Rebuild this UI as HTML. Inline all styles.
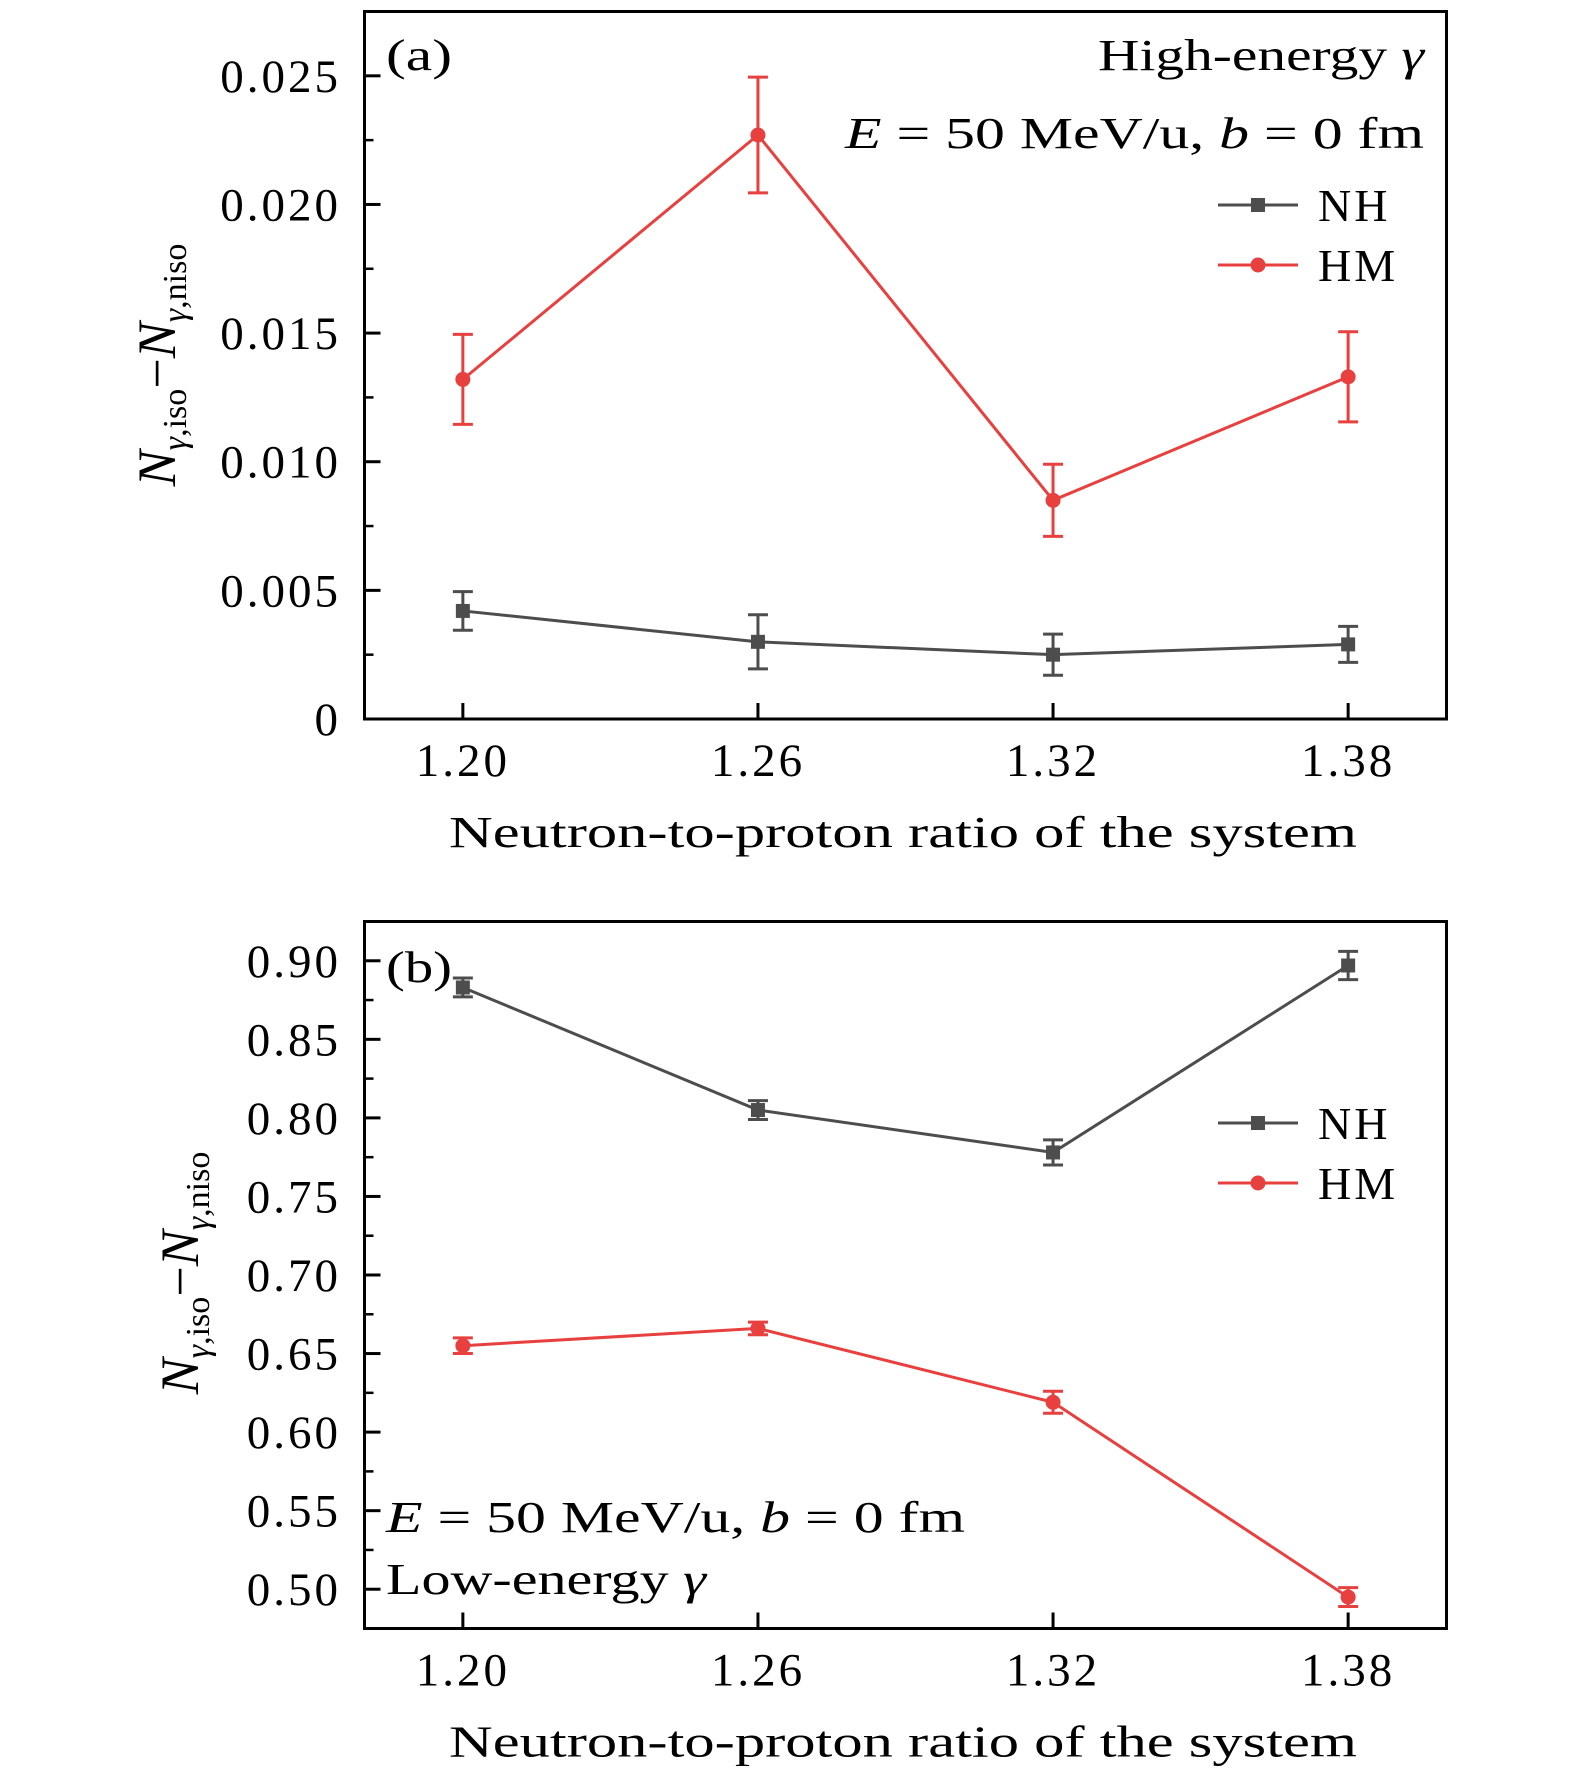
<!DOCTYPE html>
<html><head><meta charset="utf-8"><style>
html,body{margin:0;padding:0;background:#fff}
svg{display:block}
text{font-family:"Liberation Serif",serif;fill:#000}
</style></head><body>
<svg id="chart" width="1575" height="1781" viewBox="0 0 1575 1781" xmlns="http://www.w3.org/2000/svg">
<g id="pa"></g>
<g id="pb"></g>
</svg>
<script>
const categories = [1.20, 1.26, 1.32, 1.38];
const xTickLabels = ["1.20", "1.26", "1.32", "1.38"];
const aNH = [0.0042, 0.0030, 0.0025, 0.0029];
const aNHerr = [0.00075, 0.00105, 0.0008, 0.0007];
const aHM = [0.0132, 0.0227, 0.0085, 0.0133];
const aHMerr = [0.00175, 0.00225, 0.0014, 0.00175];
const aYTicks = [0, 0.005, 0.010, 0.015, 0.020, 0.025];
const aYTickLabels = ["0", "0.005", "0.010", "0.015", "0.020", "0.025"];
const bNH = [0.883, 0.805, 0.778, 0.897];
const bNHerr = [0.006, 0.006, 0.008, 0.009];
const bHM = [0.655, 0.666, 0.619, 0.495];
const bHMerr = [0.005, 0.004, 0.007, 0.006];
const bYTicks = [0.50, 0.55, 0.60, 0.65, 0.70, 0.75, 0.80, 0.85, 0.90];
const bYTickLabels = ["0.50", "0.55", "0.60", "0.65", "0.70", "0.75", "0.80", "0.85", "0.90"];

const NS = "http://www.w3.org/2000/svg";
const GRAY = "#4d4d4d", RED = "#e8403f";
function mk(parent, tag, attrs, txt) {
  const e = document.createElementNS(NS, tag);
  for (const k in attrs) e.setAttribute(k, attrs[k]);
  if (txt !== undefined) e.textContent = txt;
  parent.appendChild(e);
  return e;
}
function panel(g, cfg) {
  const L = 364.5, R = 1446.5, T = cfg.top, B = cfg.bottom;
  const xs = v => L + (v - 1.18) / (1.40 - 1.18) * (R - L);
  const ys = v => B - (v - cfg.ymin) / (cfg.ymax - cfg.ymin) * (B - T);
  const frame = mk(g, "rect", {x: L, y: T, width: R - L, height: B - T, fill: "none", stroke: "#000", "stroke-width": 3});
  
  
  categories.forEach((c, i) => {
    const x = xs(c);
    mk(g, "line", {x1: x, y1: B, x2: x, y2: B - 16, stroke: "#000", "stroke-width": 3});
    const t = mk(g, "text", {x: x, y: B + 57, "font-size": 47, "letter-spacing": 3, "text-anchor": "middle"}, xTickLabels[i]);
    
    
  });
  cfg.yticks.forEach((v, i) => {
    const y = ys(v);
    mk(g, "line", {x1: L, y1: y, x2: L + 16, y2: y, stroke: "#000", "stroke-width": 3});
    const t = mk(g, "text", {x: 341, y: y + 16, "font-size": 47, "letter-spacing": 3, "text-anchor": "end"}, cfg.ylabels[i]);
    
    
    if (i < cfg.yticks.length - 1) {
      const ym = ys((v + cfg.yticks[i + 1]) / 2);
      mk(g, "line", {x1: L, y1: ym, x2: L + 9, y2: ym, stroke: "#000", "stroke-width": 2.5});
    }
  });
  const xt = mk(g, "text", {x: 449, y: B + 128, "font-size": 44, textLength: 908, lengthAdjust: "spacingAndGlyphs"}, "Neutron-to-proton ratio of the system");
  
  
  const yt = mk(g, "text", {transform: `translate(${cfg.ytx},${cfg.yty}) rotate(-90)`, "font-size": 54, "text-anchor": "middle"});
  
  
  yt.innerHTML = '<tspan font-style="italic">N</tspan><tspan font-size="34" font-style="italic" dy="11">γ</tspan><tspan font-size="34">,iso</tspan><tspan dy="-11">−</tspan><tspan font-style="italic">N</tspan><tspan font-size="34" font-style="italic" dy="11">γ</tspan><tspan font-size="34">,niso</tspan>';
  function series(vals, errs, color, shape, name) {
    const sg = mk(g, "g", {});
    
    
    const pts = vals.map((v, i) => xs(categories[i]) + "," + ys(v)).join(" ");
    mk(sg, "polyline", {points: pts, fill: "none", stroke: color, "stroke-width": 3});
    vals.forEach((v, i) => {
      const x = xs(categories[i]);
      const y1 = ys(v + errs[i]), y2 = ys(v - errs[i]);
      mk(sg, "line", {x1: x, y1: y1, x2: x, y2: y2, stroke: color, "stroke-width": 3});
      mk(sg, "line", {x1: x - 10, y1: y1, x2: x + 10, y2: y1, stroke: color, "stroke-width": 3});
      mk(sg, "line", {x1: x - 10, y1: y2, x2: x + 10, y2: y2, stroke: color, "stroke-width": 3});
      let m;
      if (shape === "sq") m = mk(sg, "rect", {x: x - 7, y: ys(v) - 7, width: 14, height: 14, fill: color});
      else m = mk(sg, "circle", {cx: x, cy: ys(v), r: 7.5, fill: color});
      
      
    });
  }
  series(cfg.nh, cfg.nhe, GRAY, "sq", "nh-series");
  series(cfg.hm, cfg.hme, RED, "ci", "hm-series");
  const lg = mk(g, "g", {});
  
  
  const ly1 = cfg.legY, ly2 = cfg.legY + 60;
  mk(lg, "line", {x1: 1218, y1: ly1, x2: 1298, y2: ly1, stroke: GRAY, "stroke-width": 3});
  mk(lg, "rect", {x: 1251, y: ly1 - 7, width: 14, height: 14, fill: GRAY});
  mk(lg, "text", {x: 1318, y: ly1 + 16, "font-size": 46, "letter-spacing": 3}, "NH");
  mk(lg, "line", {x1: 1218, y1: ly2, x2: 1298, y2: ly2, stroke: RED, "stroke-width": 3});
  mk(lg, "circle", {cx: 1258, cy: ly2, r: 7.5, fill: RED});
  mk(lg, "text", {x: 1318, y: ly2 + 16, "font-size": 46, "letter-spacing": 3}, "HM");
  cfg.notes.forEach(n => {
    const t = mk(g, "text", {x: n.x, y: n.y, "font-size": 44, "text-anchor": n.anchor || "start"});
    if (n.len) { t.setAttribute("textLength", n.len); t.setAttribute("lengthAdjust", "spacingAndGlyphs"); }
    
    
    t.innerHTML = n.html;
  });
}
const EQ = '<tspan font-style="italic">E</tspan> = 50 MeV/u, <tspan font-style="italic">b</tspan> = 0 fm';
panel(document.getElementById("pa"), {
  top: 11.5, bottom: 719, ymin: 0, ymax: 0.0275,
  yticks: aYTicks, ylabels: aYTickLabels,
  nh: aNH, nhe: aNHerr, hm: aHM, hme: aHMerr,
  ytx: 175, yty: 365, legY: 205,
  notes: [
    {x: 386, y: 70, html: "(a)", name: "panel-label-a", len: 66},
    {x: 1098, y: 70, html: 'High-energy <tspan font-style="italic">γ</tspan>', len: 326, name: "energy-annotation"},
    {x: 845, y: 148, html: EQ, len: 579, name: "condition-annotation"}
  ]
});
panel(document.getElementById("pb"), {
  top: 921.5, bottom: 1628.5, ymin: 0.475, ymax: 0.925,
  yticks: bYTicks, ylabels: bYTickLabels,
  nh: bNH, nhe: bNHerr, hm: bHM, hme: bHMerr,
  ytx: 198, yty: 1273, legY: 1123,
  notes: [
    {x: 386, y: 982, html: "(b)", name: "panel-label-b", len: 66},
    {x: 386, y: 1532, html: EQ, len: 579, name: "condition-annotation"},
    {x: 386, y: 1594, html: 'Low-energy <tspan font-style="italic">γ</tspan>', len: 320, name: "energy-annotation"}
  ]
});
</script>
</body></html>
